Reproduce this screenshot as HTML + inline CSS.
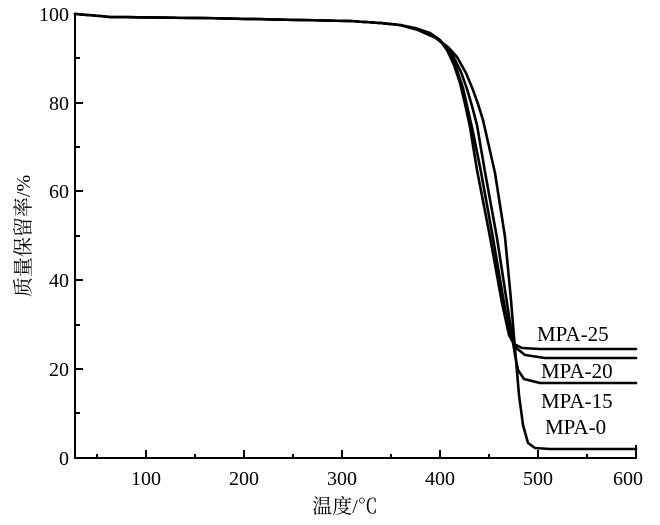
<!DOCTYPE html>
<html><head><meta charset="utf-8"><style>
body{margin:0;background:#fff}
svg{display:block}
text{font-family:"Liberation Serif","Noto Serif CJK SC",serif;fill:#000}
</style></head><body>
<svg width="660" height="525" viewBox="0 0 660 525" xmlns="http://www.w3.org/2000/svg">
<g stroke="#000" stroke-width="2" fill="none">
<line x1="75" y1="13" x2="75" y2="459"/>
<line x1="74" y1="458" x2="637" y2="458"/>
<path d="M146,458v-8M244,458v-8M342,458v-8M440,458v-8M538,458v-8M636,458v-13
M97,458v-4M195,458v-4M293,458v-4M391,458v-4M489,458v-4M587,458v-4"/>
<path d="M75,14h8M75,103h8M75,191h8M75,280h8M75,369h8
M75,58h5M75,147h5M75,236h5M75,325h5M75,413h5"/>
</g>
<g stroke="#000" stroke-width="2.6" fill="none" stroke-linejoin="round" stroke-linecap="round">
<polyline points="75,14 100,16 110,17 200,18 300,20 350,21 380,23 400,25 415,28 430,33 440,40 447,50 454,65 460,83 465,104 470,127 477,170 490,237 502,303 509,335 514,344 522,348 540,349 636,349"/>
<polyline points="75,14 100,16 110,17 200,18 300,20 350,21 380,23 400,25 416,29 432,35 442,43 450,54 457,70 463,88 468,110 473,132 481,172 493,238 504,303 510,336 515,347 525,355 545,358 636,358"/>
<polyline points="75,14 100,16 110,17 200,18 300,20 350,21 380,23 400,25 417,29 434,36 445,45 453,56 461,72 467,89 472,106 477,125 485,172 497,238 507,303 512,336 515,355 518,370 524,379 540,383 636,383"/>
<polyline points="75,14 100,16 110,17 200,18 300,20 350,21 380,23 400,25 418,30 436,38 448,47 457,57 466,73 473,90 478,104 483,120 495,173 505,237 511,300 514,337 516,360 519,395 523,425 528,443 535,448 550,449 636,449"/>
</g>
<g font-size="21">
<text x="537" y="341">MPA-25</text>
<text x="541" y="378">MPA-20</text>
<text x="541" y="408">MPA-15</text>
<text x="545" y="434">MPA-0</text>
</g>
<g font-size="20" text-anchor="end">
<text x="69" y="21">100</text>
<text x="69" y="110">80</text>
<text x="69" y="198">60</text>
<text x="69" y="287">40</text>
<text x="69" y="376">20</text>
<text x="69" y="465">0</text>
</g>
<g font-size="20" text-anchor="middle">
<text x="146" y="485">100</text>
<text x="244" y="485">200</text>
<text x="342" y="485">300</text>
<text x="440" y="485">400</text>
<text x="538" y="485">500</text>
<text x="628" y="485">600</text>
<text x="345" y="513" font-family="Liberation Serif, Noto Sans CJK SC, sans-serif">温度/℃</text>
<text transform="translate(30,236) rotate(-90)" font-family="Liberation Serif, Noto Sans CJK SC, sans-serif">质量保留率/%</text>
</g>
</svg>
</body></html>
